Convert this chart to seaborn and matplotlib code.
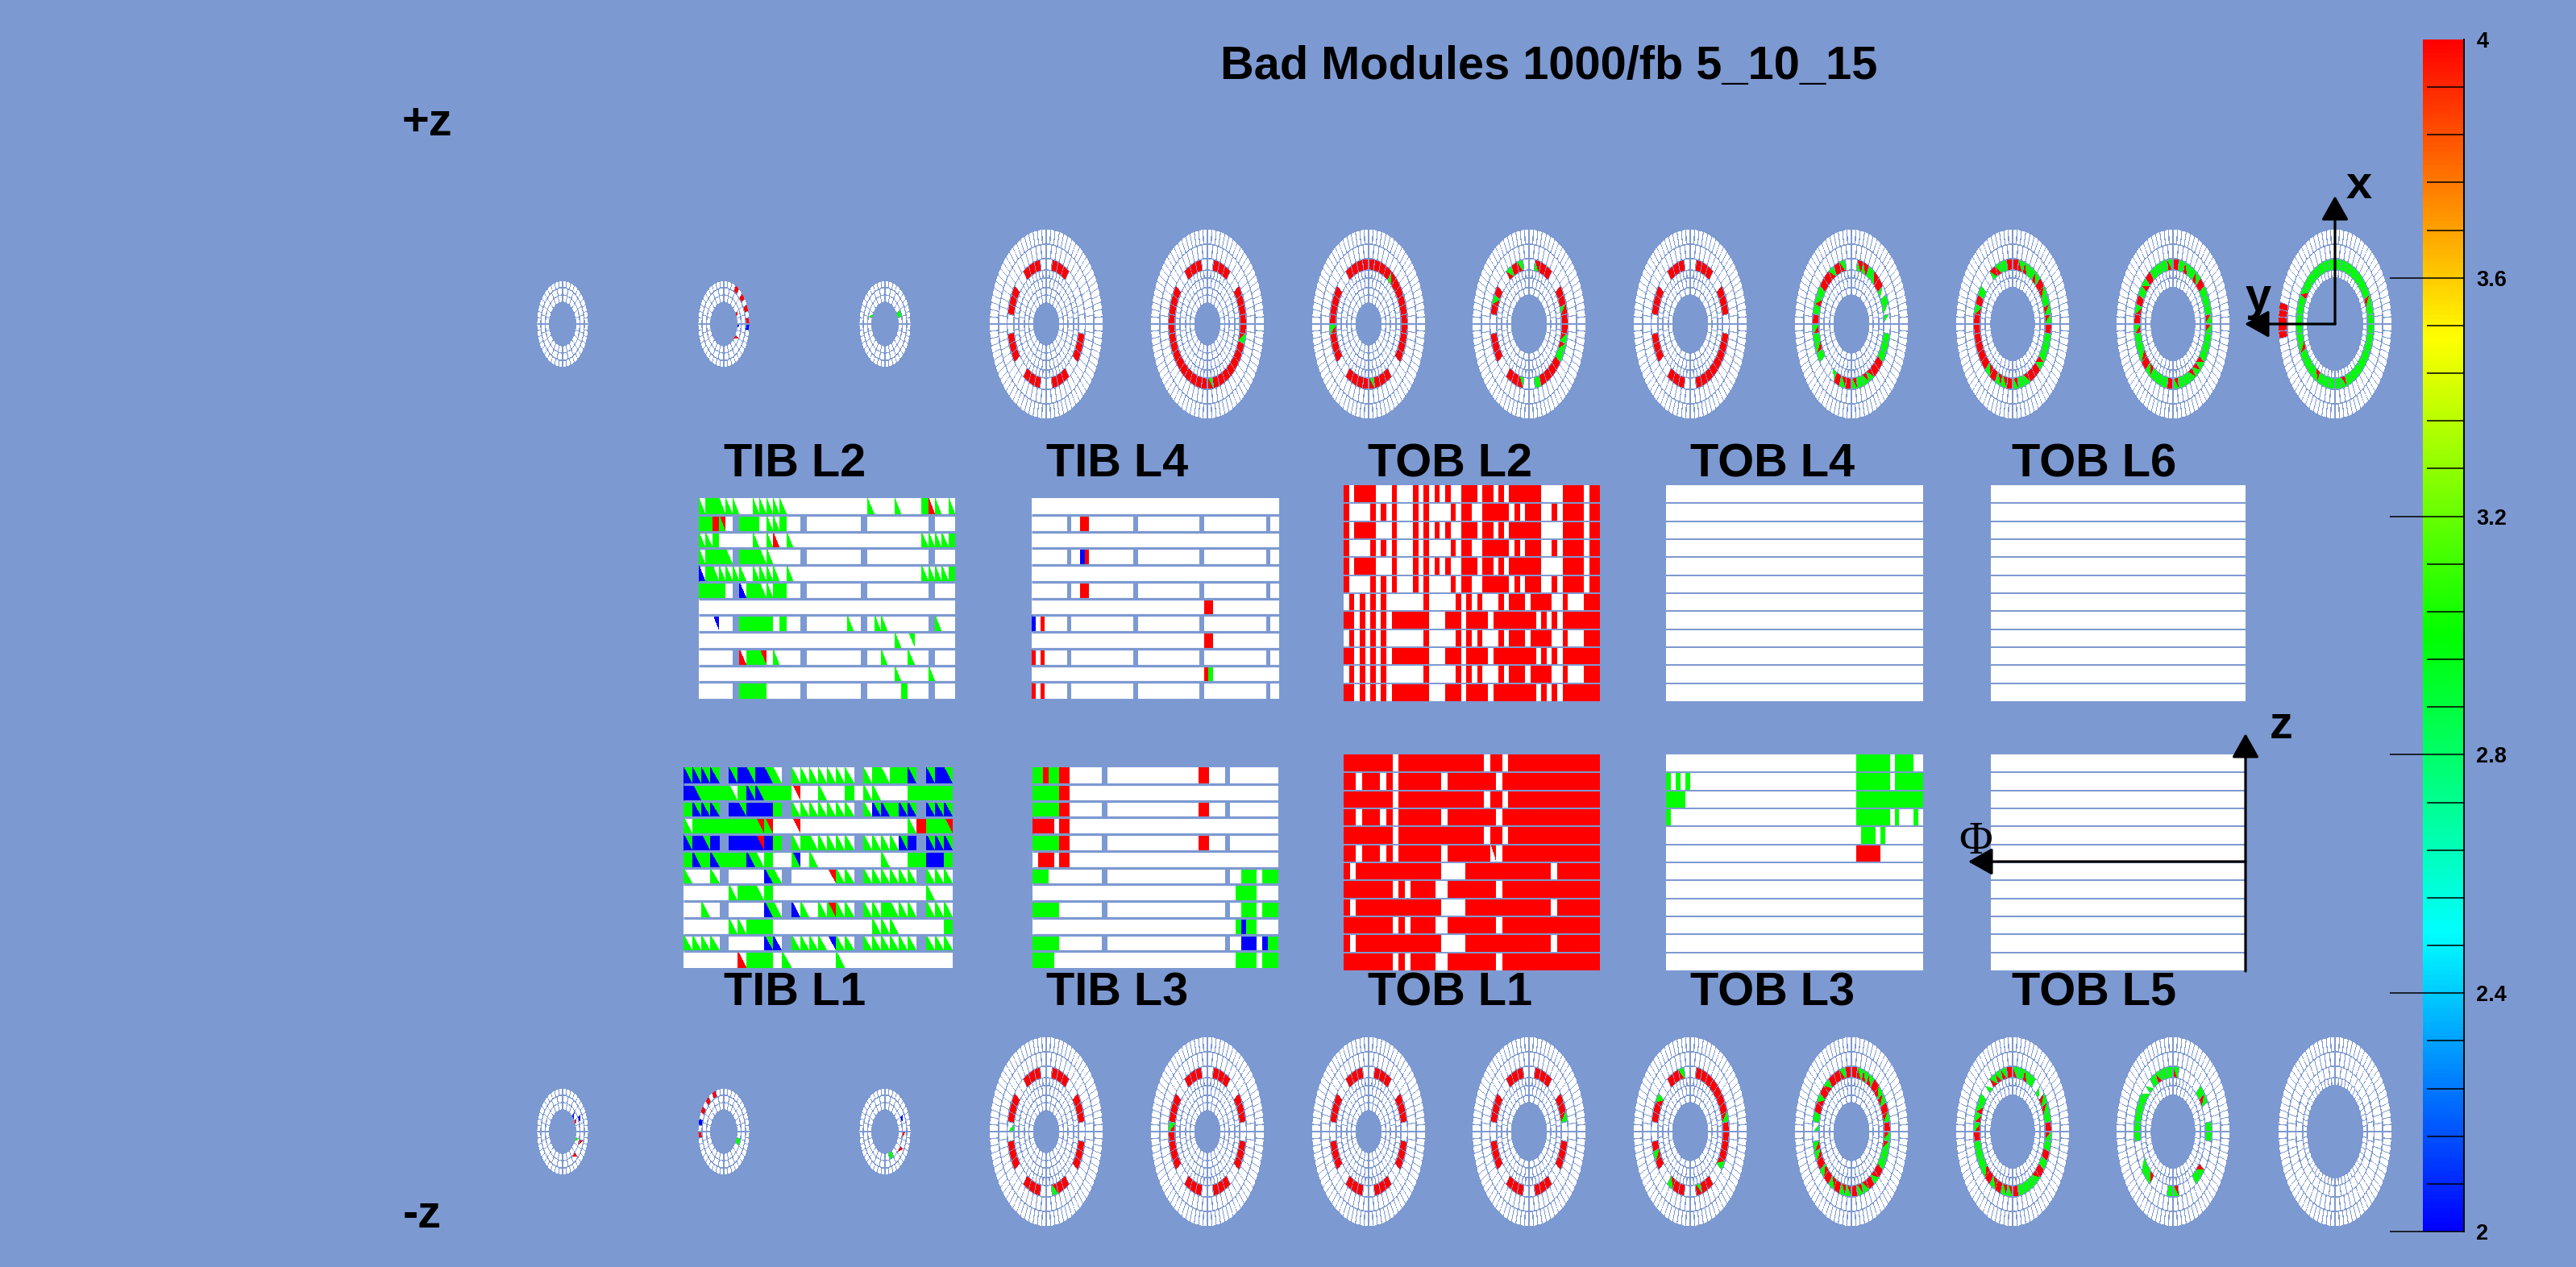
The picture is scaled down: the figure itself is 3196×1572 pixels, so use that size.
import numpy as np
import matplotlib
matplotlib.use("Agg")
import matplotlib.pyplot as plt
from matplotlib.colors import LinearSegmentedColormap, Normalize
from matplotlib.collections import PolyCollection
import seaborn as sns

W, H = 3196, 1572
BG = "#7d99d1"

TITLE = "Bad Modules 1000/fb 5_10_15"
SCALE_TICKS = [2.0, 2.4, 2.8, 3.2, 3.6, 4.0]
SCALE_LABELS = ["2", "2.4", "2.8", "3.2", "3.6", "4"]

# cell codes: (lower-left triangle, upper-right triangle); 1 = no bad component (white)
GREEN, RED, BLUE, NONE = 3.0, 4.0, 2.0, 1.0
CODES = {".": (NONE, NONE), "g": (GREEN, GREEN), "r": (RED, RED), "b": (BLUE, BLUE),
         "G": (GREEN, NONE), "R": (RED, NONE), "B": (BLUE, NONE),
         "A": (NONE, BLUE), "V": (NONE, GREEN), "Q": (NONE, RED),
         "M": (BLUE, GREEN), "N": (RED, GREEN), "H": (GREEN, RED),
         "K": (BLUE, RED), "L": (GREEN, BLUE),
         "x": (RED, GREEN), "y": (GREEN, RED), "v": (GREEN, NONE)}

TIB_L2 = [
    "GggGGG..GGGGG............G...G...gRG.G",
    "ggrH._ggg.GGg.._........_........._...",
    "GGg.....G.GR.G...................GGGGg",
    "GgggG_gggGG...._........_........._...",
    "BgGGGGG.GGGG.G...................GGGGg",
    "gggg._BggGGgg.._........_........._...",
    "." * 38,
    "..A.._ggggg.g.._......G._.GG......_G..",
    "." * 29 + "G.V" + "." * 6,
    "....._RggH.G..._........_..G...G.._...",
    "." * 29 + "G....G...",
    "....._gggg....._........_.....g..._...",
]
TIB_L4 = [
    "." * 56,
    "........_..rr.........._.............._.............._.....",
    "." * 56,
    "........_..br.........._.............._.............._.....",
    "." * 56,
    "........_..rr.........._.............._.............._.....",
    "." * 39 + "rr" + "." * 15,
    "b.r....._.............._.............._.............._.....",
    "." * 39 + "rr" + "." * 15,
    "r.r....._.............._.............._.............._.....",
    "." * 39 + "rg" + "." * 15,
    "r.r....._.............._.............._.............._.....",
]
TIB_L1 = [
    "MMMM_MbMbMG_GGGGGGG_GgGggM_MbM",
    "bMgggGgMMgggQ..G..g.GG...ggggg",
    "gMMM_bMbbbg_GGGGGGG_GMMgMM_MMM",
    "GgggggggHH..Q............GrggH",
    "MbMb_bbbKbg_GgGGGGG_GGGGMb_MMM",
    "gMgMgggMGg..L.G.......G..ggbbg",
    "G..G_....MG_....QGG_GGGGGG_GGG",
    ".....GggGg" + "." * 17 + "G..",
    "..G._....MG_BG.GHGG_GGgGGG_GGG",
    "." * 5 + "GGggg" + "." * 11 + "GGG" + "." * 5 + "g",
    "GGGG_....MB_GGGGAGG_GGGGGG_GGG",
    "." * 6 + "Rggg.G" + "." * 5 + "G" + "." * 12,
]
TIB_L3 = [
    "ggrggrr......_.................rr..._.........",
    "gggggrr" + "." * 39,
    "gggggrr......_.................rr..._.........",
    "rrrr.rr" + "." * 39,
    "gggggrr......_.................rr..._.........",
    ".rrr.rr" + "." * 39,
    "ggg.........._" + "." * 22 + "_..ggg.ggg",
    "." * 38 + "gggg....",
    "ggggg........_" + "." * 22 + "_..ggg.ggg",
    "." * 38 + "gbgg....",
    "ggggg........_" + "." * 22 + "_..bbb.bgg",
    "gggg" + "." * 34 + "gggg.ggg",
]
L2_A = "r.rrrr...r...r.r.r.r..rrr.rr.r.rrrrrr....rrrr.rr"
L2_B = "r....r.r.r...r.r....r.rr..rrrrr.r.rrr..r.rrrr.rr"
L2_C = ".r.r.r.r.......r.....r.r.r...r.rrr.rrrr..r...rrr"
L2_D = "rr.r.r.r.rrrrrrr...rrr.rrrr.rrrrrrrr.r.r.rrrrrrr"
TOB_L2 = [L2_A, L2_B, L2_A, L2_B, L2_A, L2_B, L2_C, L2_D, L2_C, L2_D, L2_C, L2_D]
L1_A = "rrrrrrrr.rrrrrrrrrrrrrr.rr.rrrrrrrrrrrrrrr"
L1_B = "rr.rrr.r.rrrrrrr.rrrrrrrr.rrrrrrrrrrrrrrrr"
L1_B2 = "rr.rrr.r.rrrrrrr.rrrrrrrQ.rrrrrrrrrrrrrrrr"
L1_C = "r.rrrrrrrrrrrrrr....rrrrrrrrrrrrrr.rrrrrrr"
L1_D = "rrrrrrrr.r.rrrr..rrrrrrrr.rrrrrrrrrrrrrrrr"
TOB_L1 = [L1_A, L1_B, L1_A, L1_B, L1_A, L1_B2, L1_C, L1_D, L1_C, L1_D, L1_C, L1_D]
TOB_L3 = [
    "." * 40 + "ggggggg.gggg..",
    "g.g.g" + "." * 35 + "ggggggg.gggggg",
    "gggg" + "." * 36 + "g" * 14,
    "g" + "." * 39 + "ggggggg.g...g.",
    "." * 41 + "ggg.g" + "." * 8,
    "." * 40 + "rrrrr" + "." * 9,
] + ["." * 54] * 6
TOB_EMPTY = ["." * 54] * 12

# label, rows, pixel box (left, top, right, bottom), separator px, label centre x, label centre y
PANELS = [
    ("TIB L2", TIB_L2, (867, 618, 1185, 867), 3.2, 986, 576),
    ("TIB L4", TIB_L4, (1280, 618, 1587, 867), 3.2, 1386, 576),
    ("TOB L2", TOB_L2, (1667, 602, 1985, 870), 2.0, 1799, 576),
    ("TOB L4", TOB_EMPTY, (2067, 602, 2386, 870), 2.0, 2199, 576),
    ("TOB L6", TOB_EMPTY, (2470, 602, 2786, 870), 2.0, 2598, 576),
    ("TIB L1", TIB_L1, (848, 952, 1182, 1201), 3.2, 986, 1232),
    ("TIB L3", TIB_L3, (1281, 952, 1586, 1201), 3.2, 1386, 1232),
    ("TOB L1", TOB_L1, (1667, 936, 1985, 1204), 2.0, 1799, 1232),
    ("TOB L3", TOB_L3, (2067, 936, 2386, 1204), 2.0, 2199, 1232),
    ("TOB L5", TOB_EMPTY, (2470, 936, 2786, 1204), 2.0, 2598, 1232),
]

# endcap wheels: one string of 40 modules clockwise from the top for the 5th ring
WHEEL_X = [1298, 1498, 1698, 1897, 2097, 2297, 2497, 2696, 2897]
WHEEL_FIRST_RING = [0, 0, 0, 1, 1, 1, 2, 2, 3]
TOP_BAND = [
    ".rrr. ..... .rrr. .rrr. .rrr. .rrr. .rrr. .rrr.",
    ".rrr. .rrrr rxrrr rrrry rrrrr rrrrr rrrr. .rrr.",
    "rrrry rrrrr rrrr. .rrry rrrr. .rrrx rrrr. .rrrr",
    ".yrr. .rryr rxxgr rrrg. .yrr. .rrr. .rxr. .xrx.",
    ".rrr. .rrr. .rrrr rrrr. .rrr. .rrr. .rrr. .rrr.",
    ".yygy rvgvv .gggr rxxgx rxrv. .gxgx rgxgr rxrx.",
    "rxxgx rxgxx rgggx rrxgx rxxrx rrrrr rxrg. .yxgr",
    "rgxgx rgggx xgggx xxggx rgggx rxggx rxrgx rgggx",
    "ggggg ggxgg ggggg gggxg gggxg ggxgg gggxg ggggg",
]
BOTTOM_BAND = [
    ".rrr. .rrr. .rrr. .rrx. .rrr. .rrr. vrrr. .rrr.",
    ".rrr. .rrr. .rrr. .rrr. .rrr. .rrrr xrrr. .rrr.",
    ".rrr. .rrr. .rrr. .rrr. .rrr. .rrr. .rrr. .rrr.",
    ".rrr. .rrx. .rrr. .rrr. .rrr. .rrr. .rrr. .rrr.",
    ".rrrr rrrxr rrrx. .rry. .rrx. .rxr. .rrx. .rrx.",
    "rxxxr xxrxr xxggr xrxxr xxrxr xrxx. vgrxr xrrxr",
    "xgxg. vxxgr xgrgr xgggr xxrxr xgggr xxxg. vxxxr",
    "x.... gx..g g...x g...x g...x gv..g ggggv vgxgg",
    "..... ..... ..... ..... ..... ..... ..... .....",
]
TOP_OUTER_RED = {8: [58, 59, 60, 61, 62]}  # modules of the outermost ring of wheel 9

WHEEL_RADII = [26, 36, 45, 57, 67, 81, 99, 118]
WHEEL_COUNTS = [24, 24, 40, 56, 40, 56, 80]
BAND_RING = 4

# small disks: x centre; marks = (disk, ring, module, code)
DISK_X = [698, 898, 1098]
DISK_RADII = [27, 36, 45, 54]
DISK_COUNTS = [24, 24, 40]
TOP_DISK_MARKS = [(1, 2, 3, "r"), (1, 2, 5, "r"), (1, 2, 7, "r"), (1, 2, 9, "r"), (1, 2, 10, "b"),
                  (1, 0, 4, "R"), (1, 0, 6, "B"), (1, 0, 8, "R"), (2, 0, 4, "g"), (2, 0, 19, "G")]
BOTTOM_DISK_MARKS = [(0, 0, 3, "B"), (0, 0, 4, "R"), (0, 1, 4, "B"), (0, 0, 7, "G"), (0, 1, 7, "R"), (0, 1, 9, "R"),
                     (1, 2, 37, "r"), (1, 2, 35, "r"), (1, 2, 33, "r"), (1, 2, 31, "b"), (1, 2, 29, "r"), (1, 0, 7, "g"),
                     (2, 1, 4, "B"), (2, 1, 6, "R"), (2, 0, 10, "g"), (2, 1, 8, "R")]

TOP_Y, BOTTOM_Y = 402, 1404
ASPECT = 1.67
MODULE_GAP = 1.15   # half gap between neighbouring modules, px
RING_GAP = 1.3      # half gap between rings, px

sns.set_theme(style="white")
plt.rcParams["font.family"] = ["Liberation Sans", "DejaVu Sans"]
plt.rcParams["axes.unicode_minus"] = False

cmap = LinearSegmentedColormap.from_list(
    "rainbow_root", ["#0000ff", "#00ffff", "#00ff00", "#ffff00", "#ff0000"], N=256)
cmap.set_under("white")
norm = Normalize(2, 4)


def tone(v):
    return (1, 1, 1, 1) if v < 2 else cmap(norm(v))


fig = plt.figure(figsize=(W / 100, H / 100), dpi=100, facecolor=BG)


def box_axes(l, t, r, b, **kw):
    return fig.add_axes([l / W, 1 - b / H, (r - l) / W, (b - t) / H], **kw)


def draw_panel(rows, box, sep):
    ax = box_axes(*box, facecolor=BG)
    ncol = len(rows[0])
    grid = [r.ljust(ncol, ".")[:ncol] for r in rows]
    gap = np.array([[c == "_" for c in r] for r in grid])
    upper = np.array([[CODES.get(c, (NONE, NONE))[1] for c in r] for r in grid])
    sns.heatmap(upper, mask=gap, cmap=cmap, vmin=2, vmax=4, cbar=False,
                xticklabels=False, yticklabels=False, ax=ax)
    polys, cols = [], []
    for i, r in enumerate(grid):
        for j, c in enumerate(r):
            if c == "_":
                continue
            lo, up = CODES[c]
            if lo != up:
                polys.append([(j, i), (j, i + 1), (j + 1, i + 1)])
                cols.append(tone(lo))
    if polys:
        ax.add_collection(PolyCollection(polys, facecolors=cols, edgecolors="none", antialiaseds=False))
    ax.hlines(np.arange(1, len(grid)), 0, ncol, color=BG, lw=sep * 0.72)
    ax.set_xlim(0, ncol)
    ax.set_ylim(len(grid), 0)
    ax.axis("off")
    ax.patch.set_visible(False)


for label, rows, box, sep, lx, ly in PANELS:
    draw_panel(rows, box, sep)

over = fig.add_axes([0, 0, 1, 1], facecolor="none", zorder=5)
over.set_xlim(0, W)
over.set_ylim(H, 0)
over.axis("off")


def module_polys(cx, cy, r0, r1, n, k):
    step = 2 * np.pi / n

    def pt(r, a, side, radial):
        # ellipse point, pulled in by a fixed number of pixels along the
        # tangent (side) and along the outward direction (radial)
        sx, sy = np.sin(a), -np.cos(a)
        tx, ty = np.cos(a) / ASPECT, np.sin(a)
        tn = np.hypot(tx, ty)
        rn = np.hypot(sx / ASPECT, sy)
        ux, uy = sx / ASPECT / rn, sy / rn
        return (cx + r * sx / ASPECT + side * MODULE_GAP * tx / tn + radial * RING_GAP * ux,
                cy + r * sy + side * MODULE_GAP * ty / tn + radial * RING_GAP * uy)

    a0, a1 = k * step, (k + 1) * step
    return (pt(r0, a0, 1, 1), pt(r1, a0, 1, -1), pt(r1, a1, -1, -1), pt(r0, a1, -1, 1))


def add_module(polys, cols, cx, cy, r0, r1, n, k, code):
    a, b, c, d = module_polys(cx, cy, r0, r1, n, k)
    lo, up = CODES[code]
    if lo == up:
        polys.append([a, b, c, d])
        cols.append(tone(lo))
    else:
        polys.append([a, b, d])
        cols.append(tone(lo))
        polys.append([b, c, d])
        cols.append(tone(up))


polys, cols = [], []
for cy, bands, extra in [(TOP_Y, TOP_BAND, TOP_OUTER_RED), (BOTTOM_Y, BOTTOM_BAND, {})]:
    for w, cx in enumerate(WHEEL_X):
        band = bands[w].replace(" ", "")
        for ring in range(WHEEL_FIRST_RING[w], len(WHEEL_COUNTS)):
            n = WHEEL_COUNTS[ring]
            for k in range(n):
                code = "."
                if ring == BAND_RING:
                    code = band[k]
                if ring == 6 and k in extra.get(w, []):
                    code = "r"
                add_module(polys, cols, cx, cy, WHEEL_RADII[ring], WHEEL_RADII[ring + 1], n, k, code)

for cy, marks in [(TOP_Y, TOP_DISK_MARKS), (BOTTOM_Y, BOTTOM_DISK_MARKS)]:
    lookup = {(d, r, k): c for d, r, k, c in marks}
    for d, cx in enumerate(DISK_X):
        for ring, n in enumerate(DISK_COUNTS):
            for k in range(n):
                add_module(polys, cols, cx, cy, DISK_RADII[ring], DISK_RADII[ring + 1], n, k,
                           lookup.get((d, ring, k), "."))

over.add_collection(PolyCollection(polys, facecolors=cols, edgecolors="none", antialiaseds=False))

# colour scale
bar = box_axes(3006, 49, 3057, 1528)
sns.heatmap(np.linspace(4, 2, 256)[:, None], cmap=cmap, vmin=2, vmax=4, cbar=False,
            xticklabels=False, yticklabels=False, ax=bar)
scale = box_axes(3006, 49, 3057, 1528, facecolor="none", zorder=4)
scale.set_ylim(2, 4)
scale.set_xticks([])
scale.yaxis.tick_right()
scale.set_yticks(SCALE_TICKS, SCALE_LABELS, fontsize=19.5, fontweight="bold", color="black")
scale.set_yticks(np.arange(2, 4.001, 0.08), minor=True)
scale.tick_params(axis="y", which="major", direction="in", length=66, width=1.1, color="black",
                  left=False, right=True, pad=11)
scale.tick_params(axis="y", which="minor", direction="in", length=33, width=1.1, color="black",
                  left=False, right=True)
scale.yaxis.get_major_ticks()[-1].tick2line.set_visible(False)
for name, sp in scale.spines.items():
    sp.set_visible(name == "right")
    sp.set_color("black")
    sp.set_linewidth(1.4)


def arrow(x0, y0, x1, y1):
    over.annotate("", xy=(x1, y1), xytext=(x0, y0),
                  arrowprops=dict(arrowstyle="-|>,head_length=18.5,head_width=10.4", mutation_scale=1,
                                  lw=2.3, color="black", shrinkA=0, shrinkB=0))


arrow(2897, 402, 2897, 243)
arrow(2897, 402, 2785, 402)
arrow(2786, 1205, 2786, 910)
arrow(2786, 1069, 2442, 1069)

BOLD = dict(fontsize=41.6, fontweight="bold", color="black", ha="center", va="center")
over.text(1922, 83, TITLE, **BOLD)
over.text(530, 153, "+z", **BOLD)
over.text(524, 1508, "-z", **BOLD)
over.text(2927, 231, "x", **BOLD)
over.text(2802, 370, "y", **BOLD)
over.text(2830, 901, "z", **BOLD)
over.text(2451, 1045, "\u03a6", fontsize=41, family=["Liberation Serif", "DejaVu Serif"],
          color="black", ha="center", va="center")
for label, rows, box, sep, lx, ly in PANELS:
    over.text(lx, ly, label, **BOLD)

fig.savefig("out.png", dpi=100, facecolor=BG)
